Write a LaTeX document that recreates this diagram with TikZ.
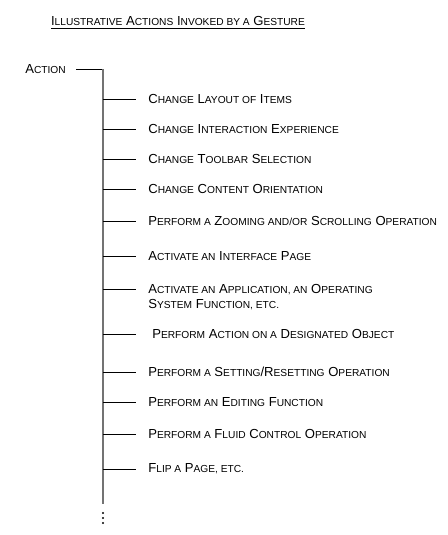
\documentclass[tikz,border=0pt]{standalone}
\usepackage{fontspec}
\setmainfont{Liberation Sans}
\usetikzlibrary{positioning, calc}
\newcommand\sC[1]{{\fontsize{5.8}{6}\selectfont #1}}

\begin{document}
\begin{tikzpicture}[
          x=0.02cm, y=-0.02cm,
          item/.style={anchor=west, inner xsep=0.24cm, inner ysep=1pt,
                       font=\fontsize{7.45}{8.8}\selectfont, align=left},
          spine/.style={draw=black!55, line width=1.1pt},
          twig/.style={draw=black, line width=0.5pt}
        ]
        \useasboundingbox (0,0) rectangle (447,535);
        \node[font=\fontsize{7.45}{8.8}\selectfont] (title) at (178,23)
          {\underline{I\sC{LLUSTRATIVE} A\sC{CTIONS} I\sC{NVOKED BY A} G\sC{ESTURE}}};
        \node[font=\fontsize{7.45}{8.8}\selectfont, anchor=west, inner sep=0pt] (act) at (25,69)
          {A\sC{CTION}};
        \coordinate (top) at (103,69);
        \coordinate (bot) at (103,504);
        \coordinate (b7) at (103,289);
        \draw[twig] ($(act.east)+(10,0)$) -- (top);
        \draw[spine] (top) -- (bot);
        \node[item] (i1) at (136,99) {C\sC{HANGE} L\sC{AYOUT OF} I\sC{TEMS}};
        \node[item] (i2) at (136,129) {C\sC{HANGE} I\sC{NTERACTION} E\sC{XPERIENCE}};
        \node[item] (i3) at (136,159) {C\sC{HANGE} T\sC{OOLBAR} S\sC{ELECTION}};
        \node[item] (i4) at (136,189) {C\sC{HANGE} C\sC{ONTENT} O\sC{RIENTATION}};
        \node[item] (i5) at (136,221) {P\sC{ERFORM A} Z\sC{OOMING AND/OR} S\sC{CROLLING} O\sC{PERATION}};
        \node[item] (i6) at (136,256) {A\sC{CTIVATE AN} I\sC{NTERFACE} P\sC{AGE}};
        \node[item] (i7) at (136,297) {A\sC{CTIVATE AN} A\sC{PPLICATION, AN} O\sC{PERATING}\\
                                       S\sC{YSTEM} F\sC{UNCTION, ETC.}};
        \node[item, inner xsep=0.32cm] (i8) at (136,334) {P\sC{ERFORM} A\sC{CTION ON A} D\sC{ESIGNATED} O\sC{BJECT}};
        \node[item] (i9) at (136,372) {P\sC{ERFORM A} S\sC{ETTING}/R\sC{ESETTING} O\sC{PERATION}};
        \node[item] (i10) at (136,402) {P\sC{ERFORM AN} E\sC{DITING} F\sC{UNCTION}};
        \node[item] (i11) at (136,434) {P\sC{ERFORM A} F\sC{LUID} C\sC{ONTROL} O\sC{PERATION}};
        \node[item] (i12) at (136,469) {F\sC{LIP A} P\sC{AGE, ETC.}};
        \foreach \n in {1,...,6,8,9,10,11,12}
          \draw[twig] (top |- i\n.west) -- (i\n.west);
        \draw[twig] (b7) -- (b7 -| i7.west);
        % more items follow
        \foreach \y in {513,518,523}
          \fill (103,\y) circle (0.7pt);
      \end{tikzpicture}
\end{document}
